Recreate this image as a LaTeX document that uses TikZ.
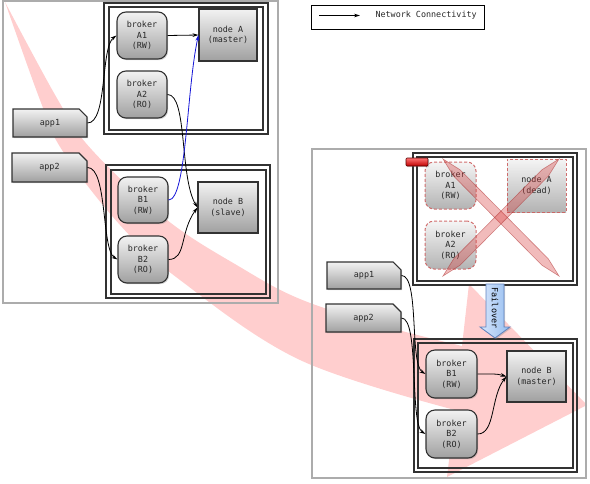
\documentclass[tikz,border=0pt]{standalone}
\usepackage{fontspec}
\setmonofont{DejaVu Sans Mono}
\usetikzlibrary{shapes.misc,shadows,arrows.meta}
\definecolor{txt}{RGB}{40,40,40}
\definecolor{edgec}{RGB}{50,50,50}
\definecolor{framec}{RGB}{172,172,172}
\definecolor{pinkband}{RGB}{255,206,206}
\definecolor{ntop}{RGB}{242,242,242}
\definecolor{nbot}{RGB}{160,160,160}
\definecolor{deadred}{RGB}{205,95,95}
\definecolor{linkblue}{RGB}{20,20,215}
\definecolor{failtop}{RGB}{215,230,252}
\definecolor{failbot}{RGB}{150,190,240}
\definecolor{failedge}{RGB}{95,130,190}
\definecolor{xfill}{RGB}{215,60,60}
\definecolor{xedge}{RGB}{170,40,40}
\tikzset{
  lbl/.style={font=\ttfamily\fontsize{8.4}{10.5}\selectfont, text=txt, align=center},
  shade/.style={top color=ntop, bottom color=nbot},
  shad/.style={drop shadow={shadow xshift=1.2pt, shadow yshift=-1.2pt, opacity=0.35}},
  box/.style={lbl, shade, shad, draw=edgec, line width=1.1pt, inner sep=0pt},
  broker/.style={box, rounded corners=9pt, minimum width=50pt, minimum height=47pt},
  store/.style={box, minimum width=58pt, minimum height=52pt},
  app/.style={box, chamfered rectangle, chamfered rectangle corners=north east,
     chamfered rectangle xsep=4pt, chamfered rectangle ysep=4pt,
     minimum width=74pt, minimum height=28pt},
  dead/.style={lbl, shade, draw=deadred, line width=1pt, dash pattern=on 3pt off 2pt,
     fill opacity=0.8, draw opacity=0.9, text opacity=1, inner sep=0pt},
  deadbroker/.style={dead, rounded corners=9pt, minimum width=51pt, minimum height=47pt},
  deadstore/.style={dead, minimum width=59pt, minimum height=53pt},
  grayframe/.style={draw=framec, line width=1.3pt},
  grp/.style={draw=edgec, line width=1.2pt},
  conn/.style={line width=0.8pt, -{Stealth[length=6pt,width=3.6pt]}},
  crossbar/.style={fill=xfill, fill opacity=0.35, draw=xedge, draw opacity=0.5, line width=0.6pt},
  redtab/.style={top color=red!55, bottom color=red!75!black, draw=red!35!black, line width=0.6pt,
     rounded corners=1pt, minimum width=22pt, minimum height=8pt, inner sep=0pt, shad},
  failarrow/.style={left color=failtop, right color=failbot, draw=failedge, line width=0.8pt, shad},
  legendbox/.style={draw=black, line width=1pt, minimum width=173pt, minimum height=24pt, inner sep=0pt, fill=white, shad}
}
\begin{document}
\begin{tikzpicture}[x=1pt,y=-1pt]
\useasboundingbox (0,0) rectangle (590,483);
% big translucent failover sweep
\fill[pinkband] plot[smooth,tension=0.6] coordinates {(5,2) (58,100) (92,150) (167,220) (240,267) (300,299) (380,325) (462,346)}
  -- (469,284) -- (587,405) -- (447,477)
  -- plot[smooth,tension=0.6] coordinates {(455,410) (300,360) (180,280) (120,225) (62,150) (40,100) (5,2)} -- cycle;

% frames
\draw[grayframe] (3,1) rectangle (278,303);
\draw[grp] (104,3) rectangle (268,134);
\draw[grp] (109,7) rectangle (263,130);
\draw[grp] (106,165) rectangle (270,298);
\draw[grp] (111,170) rectangle (266,294);
\draw[grayframe] (312,149) rectangle (586,478);
\draw[grp] (413,153) rectangle (577,285);
\draw[grp] (417,157) rectangle (573,281);
\draw[grp] (414,339) rectangle (577,472);
\draw[grp] (418,343) rectangle (573,468);

% legend
\node[legendbox] (leg) at (397.5,17) {};
\coordinate (ls) at (319,15.5);
\coordinate (le) at (360,15.5);
\draw[conn] (ls) -- (le);
\node[lbl, anchor=west] (legt) at (372,15.5) {Network Connectivity};

% left: before failover
\node[broker] (bA1) at (142,35.5) {broker\\A1\\(RW)};
\node[broker] (bA2) at (142,94.5) {broker\\A2\\(RO)};
\node[store] (nA) at (228,35) {node A\\(master)};
\node[broker, minimum height=46pt] (bB1) at (143,200) {broker\\B1\\(RW)};
\node[broker] (bB2) at (143,259.5) {broker\\B2\\(RO)};
\node[store, minimum width=60pt, minimum height=51pt] (nB) at (228,207.5) {node B\\(slave)};
\node[app] (app1) at (50,123) {app1};
\node[app, minimum width=75pt, minimum height=29pt] (app2) at (49.5,167.5) {app2};

\draw[conn] (app1.east) .. controls +(20,0) and +(-16,12) .. (bA1.west);
\draw[conn] (app2.east) .. controls +(20,0) and +(-16,-10) .. (bB2.west);
\draw[conn] (bA1.east) -- (nA.west);
\draw[conn] (bA2.east) .. controls +(20,0) and +(-18,-30) .. (nB.west);
\draw[conn] (bB2.east) .. controls +(18,0) and +(-18,25) .. (nB.west);
\draw[conn, draw=linkblue] (bB1.east) .. controls +(18,0) and +(-12,55) .. (nA.west);

% right: after failover
\node[deadbroker] (rbA1) at (450.5,185.5) {broker\\A1\\(RW)};
\node[deadbroker, minimum height=48pt] (rbA2) at (450.5,245) {broker\\A2\\(RO)};
\node[deadstore] (rnA) at (536.5,185.5) {node A\\(dead)};
\node[redtab] (tab) at (417,162) {};
\draw[crossbar] (443,159) -- (453.7,176.2) -- (541.9,265.2) -- (559,276) -- (548.3,258.8) -- (460.1,169.8) -- cycle;
\draw[crossbar] (559,159) -- (541.9,169.8) -- (453.7,258.8) -- (443,276) -- (460.1,265.2) -- (548.3,176.2) -- cycle;

\node[app, minimum height=27pt] (rapp1) at (364,275.5) {app1};
\node[app, minimum width=75pt] (rapp2) at (363.5,318) {app2};
\node[broker, minimum width=51pt, minimum height=48pt] (rbB1) at (451.5,374) {broker\\B1\\(RW)};
\node[broker, minimum width=51pt, minimum height=48pt] (rbB2) at (451.5,434) {broker\\B2\\(RO)};
\node[store, minimum width=59pt, minimum height=51pt] (rnB) at (536.5,376.5) {node B\\(master)};

\draw[conn] (rapp1.east) .. controls +(18,0) and +(-16,-10) .. (rbB1.west);
\draw[conn] (rapp2.east) .. controls +(18,0) and +(-16,-10) .. (rbB2.west);
\draw[conn] (rbB1.east) .. controls +(15,0) and +(-10,-3) .. (rnB.west);
\draw[conn] (rbB2.east) .. controls +(18,0) and +(-16,20) .. (rnB.west);

% failover arrow
\draw[failarrow] (486,284) -- (504,284) -- (504,327) -- (510,327) -- (495,338) -- (480,327) -- (486,327) -- cycle;
\node[lbl, rotate=-90, text=black] (fo) at (495,308) {Failover};
\end{tikzpicture}
\end{document}
